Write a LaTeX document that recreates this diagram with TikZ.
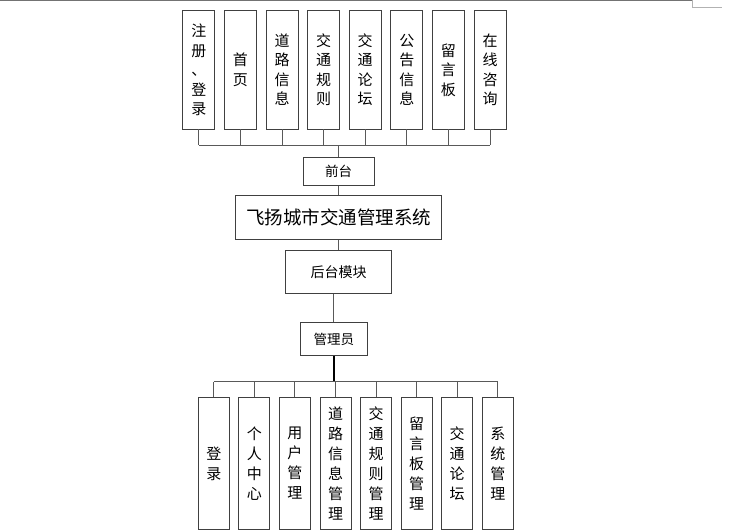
\documentclass[tikz,border=0pt]{standalone}
\usepackage{fontspec}
\setmainfont{Noto Sans CJK SC}
\begin{document}
\begin{tikzpicture}[x=1pt,y=-1pt,
  box/.style={draw=black!75, line width=0.9pt, inner sep=0pt, align=center, fill=white},
  topbox/.style={box, minimum width=32pt, minimum height=118.3pt, font=\fontsize{15}{19.5}\selectfont},
  botbox/.style={box, minimum width=31pt, minimum height=131.6pt, font=\fontsize{15}{20}\selectfont},
  conn/.style={draw=black!65, line width=0.9pt},
  thick conn/.style={draw=black, line width=1.8pt}]
\useasboundingbox (0,0) rectangle (739,531);
% page edge artifacts
\draw[black!55, line width=1pt] (0,0.5) -- (692,0.5);
\draw[black!30, line width=0.8pt] (692,0) -- (692,7) -- (722,7);

% top row
\foreach \i/\t in {1/{注\\册\\、\\登\\录},2/{首\\页},3/{道\\路\\信\\息},4/{交\\通\\规\\则},5/{交\\通\\论\\坛},6/{公\\告\\信\\息},7/{留\\言\\板},8/{在\\线\\咨\\询}}{
  \node[topbox] (t\i) at ({198.8+41.6*(\i-1)},69.85) {\t};
}
\coordinate (tbus) at (338.7,145.3);
\node[box, minimum width=70.7pt, minimum height=28.4pt, font=\fontsize{13.5}{16}\selectfont] (front) at (338.7,171.5) {前台};
\node[box, minimum width=206pt, minimum height=44pt, font=\fontsize{18.5}{22}\selectfont] (main) at (338.7,217.7) {飞扬城市交通管理系统};
\node[box, minimum width=106pt, minimum height=43.7pt, font=\fontsize{14}{16}\selectfont] (back) at (338.7,271.85) {后台模块};
\node[box, minimum width=67pt, minimum height=33pt, font=\fontsize{13.5}{16}\selectfont] (admin) at (333.8,339.2) {管理员};

% bottom row
\foreach \i/\t in {1/{登\\录},2/{个\\人\\中\\心},3/{用\\户\\管\\理},4/{道\\路\\信\\息\\管\\理},5/{交\\通\\规\\则\\管\\理},6/{留\\言\\板\\管\\理},7/{交\\通\\论\\坛},8/{系\\统\\管\\理}}{
  \node[botbox] (b\i) at ({213.8+40.57*(\i-1)},463.5) {\t};
}
\coordinate (bbus) at (333.8,381.7);

% top connectors
\foreach \i in {1,...,8}{ \draw[conn] (t\i.south) -- (t\i.south |- tbus); }
\draw[conn] (t1.south |- tbus) -- (t8.south |- tbus);
\draw[conn] (tbus) -- (front.north);
\draw[conn] (front.south) -- (main.north);
\draw[conn] (main.south) -- (back.north);
\draw[conn] (admin.north) -- (admin.north |- back.south);

% bottom connectors
\draw[thick conn] (admin.south) -- (bbus);
\foreach \i in {1,...,8}{ \draw[conn] (b\i.north) -- (b\i.north |- bbus); }
\draw[conn] (b1.north |- bbus) -- (b8.north |- bbus);
\end{tikzpicture}
\end{document}
